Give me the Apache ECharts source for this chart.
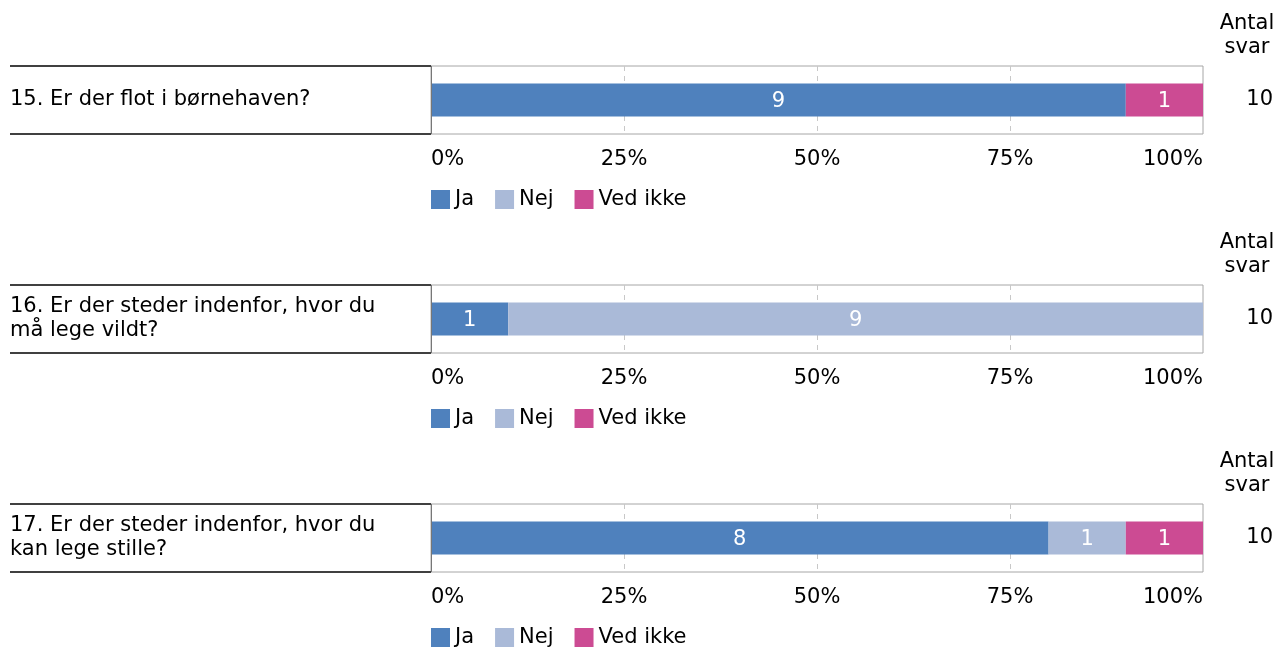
<!DOCTYPE html>
<html><head><meta charset="utf-8">
<script src="https://cdn.jsdelivr.net/npm/echarts@6/dist/echarts.min.js"></script>
<style>html,body{margin:0;padding:0;background:#fff}#c{width:1278px;height:651px}</style>
</head><body><div id="c"></div>
<script>
const questions = ['15. Er der flot i børnehaven?', '16. Er der steder indenfor, hvor du\nmå lege vildt?', '17. Er der steder indenfor, hvor du\nkan lege stille?'];
const seriesNames = ['Ja', 'Nej', 'Ved ikke'];
const ja = [9, 1, 8];
const nej = [0, 9, 1];
const vedIkke = [1, 0, 1];
const totals = [10, 10, 10];
const xTicks = [0, 25, 50, 75, 100];
const headerText = 'Antal\nsvar';

const colors = ['#4F81BD', '#AABAD8', '#CC4B93'];
const FONT = 'DejaVu Sans';
const FS = 21;
const TXT = '#000';
const TOP0 = 66, STEP = 219, H = 68, LEFT = 431, RIGHT = 1203, W = 1278;
const values = [ja, nej, vedIkke];

const grid = [], xAxis = [], yAxis = [], series = [], legend = [], graphic = [];
questions.forEach((q, i) => {
  const top = TOP0 + STEP * i;
  grid.push({left: LEFT, top: top, width: RIGHT - LEFT, height: H, show: true, borderColor: '#a6a6a6', borderWidth: 1, containLabel: false});
  xAxis.push({
    gridIndex: i, type: 'value', min: xTicks[0], max: xTicks[xTicks.length - 1], interval: xTicks[1] - xTicks[0],
    axisLine: {show: false}, axisTick: {show: false},
    splitLine: {show: true, showMinLine: false, showMaxLine: false, lineStyle: {type: [5, 5], color: '#c8c8c8', width: 1}},
    axisLabel: {formatter: '{value}%', margin: 15, fontSize: FS, fontFamily: FONT, color: TXT, alignMinLabel: 'left', alignMaxLabel: 'right'}
  });
  yAxis.push({
    gridIndex: i, type: 'category', data: [q],
    axisLine: {show: false}, axisTick: {show: false}, splitLine: {show: false},
    axisLabel: {align: 'left', margin: LEFT - 10, fontSize: FS, lineHeight: 24, padding: [4, 0, 0, 0], fontFamily: FONT, color: TXT}
  });
  yAxis.push({
    gridIndex: i, type: 'category', position: 'right', data: [String(totals[i])],
    axisLine: {show: false}, axisTick: {show: false}, splitLine: {show: false},
    axisLabel: {align: 'right', margin: 70, fontSize: FS, padding: [4, 0, 0, 0], fontFamily: FONT, color: TXT}
  });
  seriesNames.forEach((name, s) => {
    const cnt = values[s][i];
    series.push({
      name: name, type: 'bar', stack: 'q' + i, xAxisIndex: i, yAxisIndex: 2 * i,
      barWidth: 33, itemStyle: {color: colors[s]},
      data: [{value: cnt / totals[i] * 100, count: cnt}],
      label: {show: true, position: 'inside', offset: [0, 2], color: '#fff', fontSize: FS, fontFamily: FONT,
        formatter: p => p.data.count ? String(p.data.count) : ''}
    });
  });
  legend.push({
    left: LEFT, top: top + 123, padding: 0, itemWidth: 19, itemHeight: 19, itemGap: 21,
    icon: 'rect', data: seriesNames, selectedMode: false,
    textStyle: {fontSize: FS, fontFamily: FONT, color: TXT, padding: [3, 0, 0, 0]}
  });
  graphic.push({type: 'line', shape: {x1: 10, y1: top, x2: LEFT, y2: top}, style: {stroke: '#404040', lineWidth: 2}, z: 10});
  graphic.push({type: 'line', shape: {x1: 10, y1: top + H, x2: LEFT, y2: top + H}, style: {stroke: '#404040', lineWidth: 2}, z: 10});
  graphic.push({type: 'line', shape: {x1: LEFT + 0.5, y1: top, x2: LEFT + 0.5, y2: top + H}, style: {stroke: '#777', lineWidth: 1}, z: 10});
  graphic.push({type: 'text', x: 1247, y: top - 54, style: {text: headerText, textAlign: 'center', textVerticalAlign: 'top', fontSize: FS, lineHeight: 24, fontFamily: FONT, fill: TXT}});
});

const chart = echarts.init(document.getElementById('c'), null, {renderer: 'canvas'});
chart.setOption({animation: false, color: colors, grid, xAxis, yAxis, series, legend, graphic});
</script></body></html>
